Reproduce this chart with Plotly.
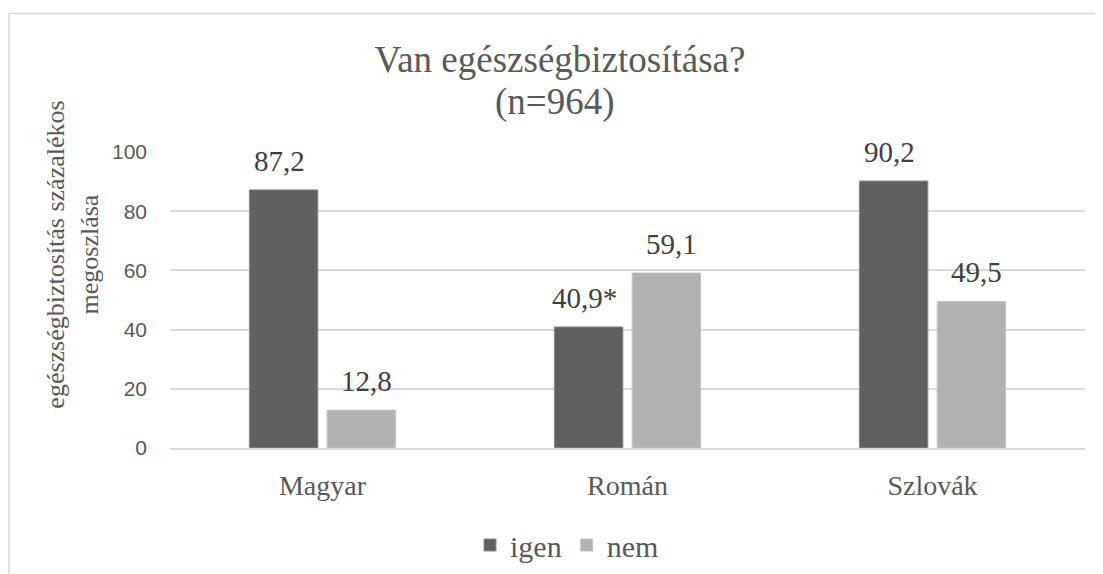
import plotly.graph_objects as go

categories = ["Magyar", "Román", "Szlovák"]
igen = [87.2, 40.9, 90.2]
nem = [12.8, 59.1, 49.5]
igen_marks = ["", "*", ""]
nem_marks = ["", "", ""]
y_ticks = [0, 20, 40, 60, 80, 100]

def fmt(v, m):
    return f"{v:.1f}".replace(".", ",") + m

W, H = 1103, 574
OFF = 8  # page body margin
ML, MR, MT, MB = 170 - OFF, 18 + OFF, 152 - OFF, 125 + OFF
serif = "Liberation Serif"
sans = "Liberation Sans"
txt = "#595959"
lbl = "#404040"

fig = go.Figure()
fig.add_trace(go.Bar(
    name="igen", x=categories, y=igen,
    marker=dict(color="#606060", line=dict(color="#8a8a8a", width=1)),
))
fig.add_trace(go.Bar(
    name="nem", x=categories, y=nem,
    marker=dict(color="#b2b2b2", line=dict(color="#c4c4c4", width=1)),
))

pw = W - ML - MR
ph = H - MT - MB
def px(x):
    return (x - OFF - ML) / pw
def py(y):
    return (H - MB - (y - OFF)) / ph

# data labels placed over each bar (offset of bar within its group)
GROUP_SHIFT = 43.5
annotations = []
for series, marks, sh in ((igen, igen_marks, -GROUP_SHIFT), (nem, nem_marks, GROUP_SHIFT)):
    for c, v, m in zip(categories, series, marks):
        annotations.append(dict(
            x=c, y=v, xref="x", yref="y", text=fmt(v, m), showarrow=False,
            xanchor="center", yanchor="bottom", xshift=sh, yshift=11,
            font=dict(family=serif, size=29, color=lbl)))

annotations.append(dict(
    text="(n=964)", xref="paper", yref="paper", x=px(555), y=py(102),
    xanchor="center", yanchor="middle", showarrow=False,
    font=dict(family=serif, size=37, color=txt)))
annotations.append(dict(
    text="egészségbiztosítás százalékos<br>megoszlása", textangle=-90,
    xref="paper", yref="paper", x=px(73), y=py(255), xanchor="center", yanchor="middle",
    showarrow=False, font=dict(family=serif, size=26, color=txt)))

fig.update_layout(
    width=W, height=H,
    margin=dict(l=ML, r=MR, t=MT, b=MB),
    paper_bgcolor="white", plot_bgcolor="white",
    barmode="group", bargap=0.49, bargroupgap=0.12,
    title=dict(text="Van egészségbiztosítása?", x=px(560), xanchor="center",
               xref="paper", y=1 - (59 - OFF) / H, yanchor="middle",
               font=dict(family=serif, size=37, color=txt)),
    showlegend=True,
    legend=dict(orientation="h", x=px(567), xanchor="center", y=py(545), yanchor="middle",
                font=dict(family=serif, size=30, color=txt), itemwidth=30,
                traceorder="normal"),
    xaxis=dict(showgrid=False, showline=True, linecolor="#d9d9d9", linewidth=1.5,
               ticks="", ticklabelstandoff=12,
               tickfont=dict(family=serif, size=28, color=txt)),
    yaxis=dict(range=[0, 100], tickvals=y_ticks, showgrid=True, gridcolor="#d9d9d9",
               gridwidth=1.5, zeroline=False, ticks="", showline=False,
               ticklabelstandoff=22,
               tickfont=dict(family=sans, size=21, color=txt)),
    annotations=annotations,
    shapes=[
        dict(type="line", xref="paper", yref="paper", x0=px(9), x1=px(1111), y0=py(13), y1=py(13),
             line=dict(color="#d9d9d9", width=1.5)),
        dict(type="line", xref="paper", yref="paper", x0=px(9), x1=px(9), y0=py(13), y1=py(582),
             line=dict(color="#d9d9d9", width=1.5)),
    ],
)

fig.write_html("out.html")
